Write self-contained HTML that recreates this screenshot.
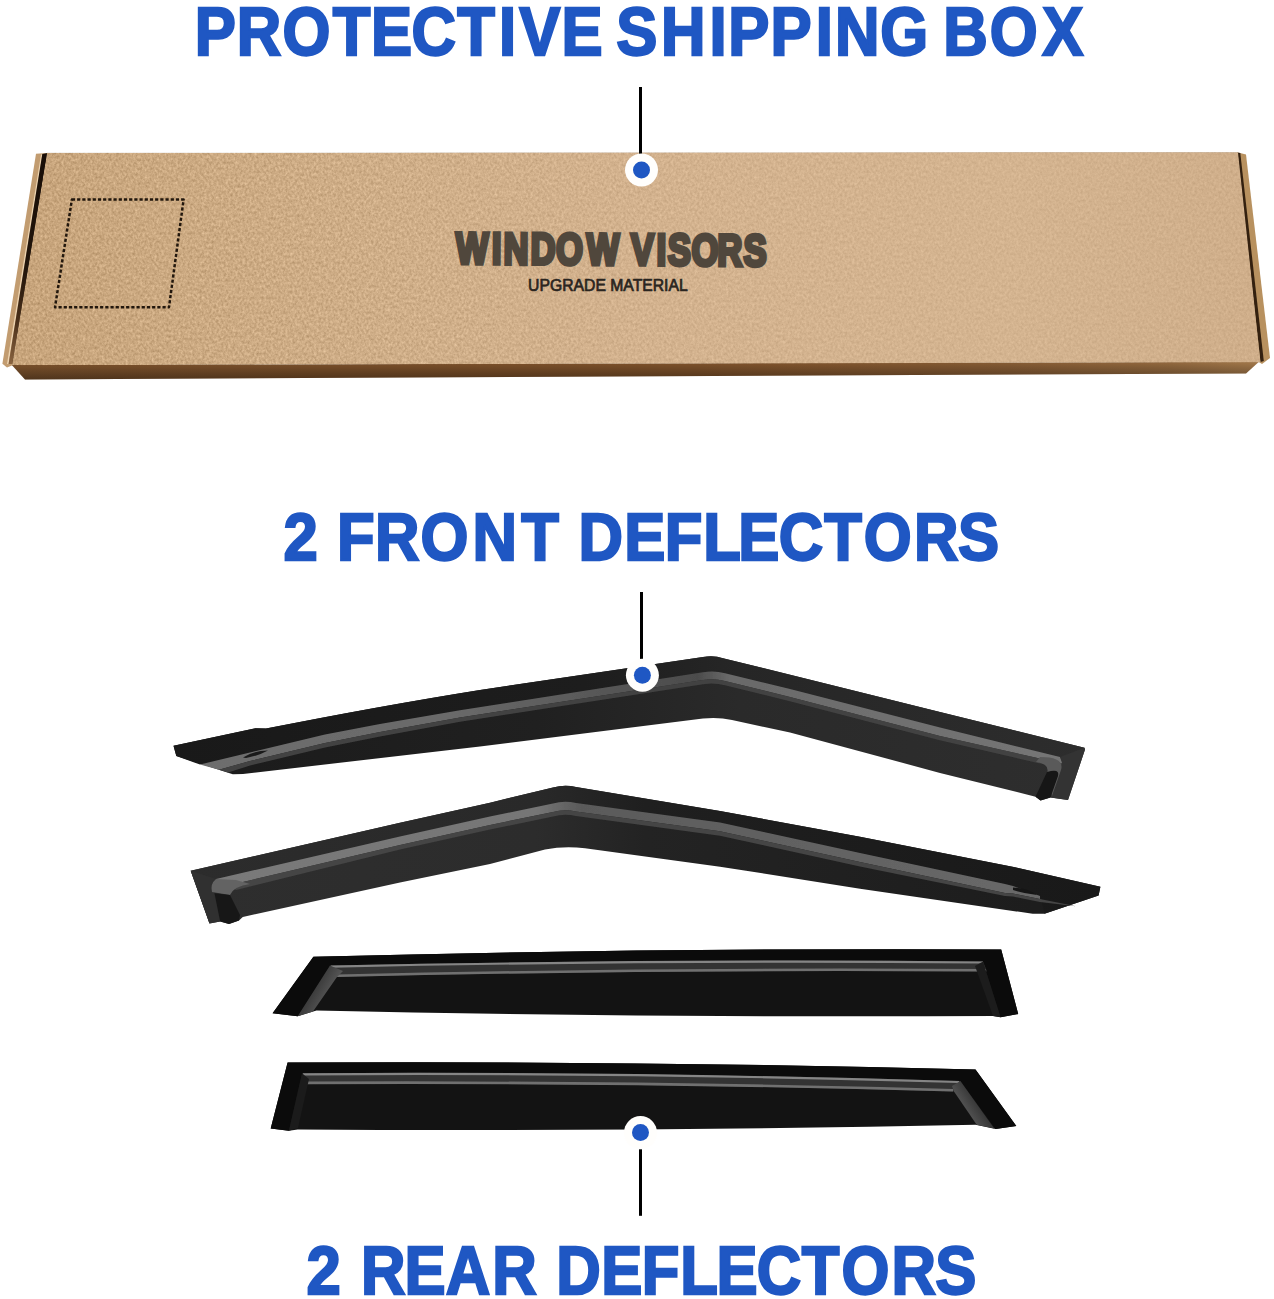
<!DOCTYPE html>
<html lang="en"><head><meta charset="utf-8"><title>Window Visors - Package Contents</title>
<style>html,body{margin:0;padding:0;background:#fff}svg{display:block}</style></head>
<body>
<svg width="1274" height="1299" viewBox="0 0 1274 1299">
<rect width="1274" height="1299" fill="#ffffff"/>
<defs>
<filter id="paper" x="0" y="0" width="100%" height="100%" color-interpolation-filters="sRGB">
  <feTurbulence type="fractalNoise" baseFrequency="0.42 0.34" numOctaves="3" seed="7" result="n"/>
  <feColorMatrix in="n" type="matrix" values="1 0 0 0 0  1 0 0 0 0  1 0 0 0 0  0 0 0 0 1" result="g"/>
  <feComposite in="SourceGraphic" in2="g" operator="arithmetic" k1="0" k2="1" k3="0.26" k4="-0.13" result="t"/>
  <feComposite in="t" in2="SourceGraphic" operator="in"/>
</filter>
<linearGradient id="topface" x1="0" y1="0" x2="1" y2="0">
  <stop offset="0" stop-color="#c7a47b"/>
  <stop offset="0.12" stop-color="#cba981"/>
  <stop offset="0.3" stop-color="#cfae88"/>
  <stop offset="0.5" stop-color="#d3b28e"/>
  <stop offset="0.8" stop-color="#d4b490"/>
  <stop offset="1" stop-color="#cfae8a"/>
</linearGradient>
<linearGradient id="topsmooth" x1="0" y1="0" x2="1" y2="0">
  <stop offset="0" stop-color="#c7a47b" stop-opacity="0"/>
  <stop offset="0.3" stop-color="#cfae88" stop-opacity="0.1"/>
  <stop offset="0.5" stop-color="#d3b28e" stop-opacity="0.35"/>
  <stop offset="0.8" stop-color="#d4b490" stop-opacity="0.55"/>
  <stop offset="1" stop-color="#cfae8a" stop-opacity="0.55"/>
</linearGradient>
<linearGradient id="front" x1="0" y1="0" x2="1" y2="0">
  <stop offset="0" stop-color="#80552e"/>
  <stop offset="0.25" stop-color="#7e522b"/>
  <stop offset="0.55" stop-color="#80532b"/>
  <stop offset="0.8" stop-color="#885d35"/>
  <stop offset="0.93" stop-color="#946a3f"/>
  <stop offset="1" stop-color="#a4794b"/>
</linearGradient>
<linearGradient id="crease" x1="0" y1="0" x2="0" y2="1">
  <stop offset="0" stop-color="#190e07"/><stop offset="0.55" stop-color="#22150b"/><stop offset="0.8" stop-color="#4a301a"/><stop offset="1" stop-color="#8a6440"/>
</linearGradient>
<linearGradient id="frontshade" x1="0" y1="0" x2="0" y2="1">
  <stop offset="0" stop-color="#000" stop-opacity="0"/>
  <stop offset="1" stop-color="#000" stop-opacity="0.38"/>
</linearGradient>
<linearGradient id="band1" x1="0" y1="0" x2="0" y2="1">
  <stop offset="0" stop-color="#6a6a6a"/>
  <stop offset="1" stop-color="#3c3c3c"/>
</linearGradient>
</defs>
<text transform="translate(0 54.90) scale(0.6164 0.6783)" x="315.8 383.9 458.4 539.7 601.8 667.5 741.9 809.5 842.5 911.1 951.1 999.6 1072.4 1151.1 1181.6 1250.2 1323.5 1354.7 1427.9 1467.9 1530.4 1605.8 1690.9" y="0" font-family="Liberation Sans, sans-serif" font-weight="bold" font-size="100" fill="#1f57c3" stroke="#1f57c3" stroke-width="2.2" stroke-linejoin="miter" stroke-miterlimit="3" vector-effect="non-scaling-stroke">PROTECTIVE SHIPPING BOX</text>
<text transform="translate(0 559.70) scale(0.6164 0.6754)" x="459.9 499.9 546.6 608.5 682.2 766.7 845.5 885.5 938.5 1012.8 1078.5 1141.1 1197.8 1263.5 1337.2 1401.3 1482.8 1554.0" y="0" font-family="Liberation Sans, sans-serif" font-weight="bold" font-size="100" fill="#1f57c3" stroke="#1f57c3" stroke-width="2.2" stroke-linejoin="miter" stroke-miterlimit="3" vector-effect="non-scaling-stroke">2 FRONT DEFLECTORS</text>
<text transform="translate(0 1294.00) scale(0.6164 0.6768)" x="497.4 537.4 585.8 656.4 723.0 798.6 838.6 902.5 975.6 1041.0 1103.8 1162.3 1227.7 1300.9 1365.0 1446.3 1517.3" y="0" font-family="Liberation Sans, sans-serif" font-weight="bold" font-size="100" fill="#1f57c3" stroke="#1f57c3" stroke-width="2.2" stroke-linejoin="miter" stroke-miterlimit="3" vector-effect="non-scaling-stroke">2 REAR DEFLECTORS</text>
<g id="box">
<polygon points="11.8,365 1259,361.8 1246,373.4 25,379.5" fill="url(#front)"/>
<polygon points="11.8,365 1259,361.8 1246,373.4 25,379.5" fill="url(#frontshade)"/>
<polygon points="36,153.8 47,153 12,365.5 7,367.5 2.4,363.8" fill="#c29c70"/>
<polygon points="41,154.5 42.5,154.3 8.5,364 7,364" fill="#ecd3b0"/>
<polygon points="42.3,154 47.5,153 13,364 8.6,364" fill="url(#crease)"/>
<polygon points="1238,152.6 1246,154.5 1270,358 1262,364 1259,362" fill="#b8915f"/>
<polygon points="1237,152.6 1240.3,153 1263.8,361 1260.5,362" fill="#33200f"/>
<polygon points="47,152.8 1238,152.2 1260.5,362.2 12,365.3" fill="url(#topface)" filter="url(#paper)"/>
<polygon points="47,152.8 1238,152.2 1260.5,362.2 12,365.3" fill="url(#topsmooth)"/>
<polygon points="71.9,199.6 183.6,199.6 169,307.2 55,307.2" fill="none" stroke="#22170d" stroke-width="2.5" stroke-dasharray="3.2 2" stroke-linejoin="round"/>
<g transform="rotate(0.42 610 249.4)">
<text transform="translate(0 264.70) scale(0.3450 0.4435)" x="1321.3 1426.0 1459.7 1538.0 1612.2 1700.4 1740.4 1828.4 1903.0 1935.8 2004.9 2079.0 2155.1" y="0" font-family="Liberation Sans, sans-serif" font-weight="bold" font-size="100" fill="#50473c" stroke="#50473c" stroke-width="3.6" stroke-linejoin="miter" stroke-miterlimit="3" vector-effect="non-scaling-stroke">WINDOW VISORS</text>
</g>
<text transform="translate(528.09 290.75) scale(0.1573 0.1739)" font-family="Liberation Sans, sans-serif" font-weight="normal" font-size="100" fill="#2a2520" stroke="#2a2520" stroke-width="0.7" stroke-linejoin="round" vector-effect="non-scaling-stroke">UPGRADE MATERIAL</text>
</g>
<defs>
<linearGradient id="d1body" gradientUnits="userSpaceOnUse" x1="174" y1="0" x2="1085" y2="0">
  <stop offset="0" stop-color="#1b1b1b"/><stop offset="0.4" stop-color="#202020"/><stop offset="0.62" stop-color="#2a2a2a"/><stop offset="1" stop-color="#2e2e2e"/>
</linearGradient>
<linearGradient id="d1fl" gradientUnits="userSpaceOnUse" x1="174" y1="0" x2="1085" y2="0">
  <stop offset="0" stop-color="#191919"/><stop offset="0.45" stop-color="#1d1d1d"/><stop offset="0.62" stop-color="#262626"/><stop offset="1" stop-color="#2d2d2d"/>
</linearGradient>
<linearGradient id="d1band" gradientUnits="userSpaceOnUse" x1="174" y1="0" x2="1085" y2="0">
  <stop offset="0" stop-color="#6e6e6e"/><stop offset="0.3" stop-color="#6a6a6a"/><stop offset="0.48" stop-color="#565656"/><stop offset="0.575" stop-color="#4c4c4c"/><stop offset="0.61" stop-color="#6a6a6a"/><stop offset="1" stop-color="#767676"/>
</linearGradient>
<linearGradient id="d2body" gradientUnits="userSpaceOnUse" x1="190" y1="0" x2="1100" y2="0">
  <stop offset="0" stop-color="#2e2e2e"/><stop offset="0.38" stop-color="#2c2c2c"/><stop offset="0.5" stop-color="#232323"/><stop offset="1" stop-color="#1c1c1c"/>
</linearGradient>
<linearGradient id="d2fl" gradientUnits="userSpaceOnUse" x1="190" y1="0" x2="1100" y2="0">
  <stop offset="0" stop-color="#2c2c2c"/><stop offset="0.38" stop-color="#292929"/><stop offset="0.5" stop-color="#1f1f1f"/><stop offset="1" stop-color="#191919"/>
</linearGradient>
<linearGradient id="d2band" gradientUnits="userSpaceOnUse" x1="190" y1="0" x2="1100" y2="0">
  <stop offset="0" stop-color="#7a7a7a"/><stop offset="0.38" stop-color="#767676"/><stop offset="0.43" stop-color="#5a5a5a"/><stop offset="0.6" stop-color="#606060"/><stop offset="1" stop-color="#6a6a6a"/>
</linearGradient>
<linearGradient id="rband" x1="0" y1="0" x2="0" y2="1">
  <stop offset="0" stop-color="#646464"/><stop offset="0.22" stop-color="#505050"/><stop offset="0.4" stop-color="#2e2e2e"/><stop offset="0.68" stop-color="#2a2a2a"/><stop offset="0.8" stop-color="#505050"/><stop offset="0.92" stop-color="#4a4a4a"/><stop offset="1" stop-color="#1c1c1c"/>
</linearGradient>
<linearGradient id="strip3" gradientUnits="userSpaceOnUse" x1="300" y1="985" x2="326" y2="1000">
  <stop offset="0" stop-color="#222"/><stop offset="1" stop-color="#565656"/>
</linearGradient>
<linearGradient id="strip4" gradientUnits="userSpaceOnUse" x1="962" y1="1110" x2="984" y2="1096">
  <stop offset="0" stop-color="#585858"/><stop offset="1" stop-color="#242424"/>
</linearGradient>
<filter id="soft" x="-2%" y="-10%" width="104%" height="120%"><feGaussianBlur stdDeviation="0.7"/></filter>
</defs>
<g id="deflector1">
<path d="M173.5,745.8 L255.5,728.2 L266.0,728.6 Q380.0,706.0 480.0,690.0 L703.0,656.9 Q714.0,655.0 723.0,658.2 L940.0,712.0 L1084.5,747.7 L1085.0,749.6 L1068.0,799.9 L1050.5,797.4 L1040.5,800.5 L1035.5,796.7 L940.0,772.9 L790.0,732.5 L732.0,720.0 Q718.0,717.0 703.0,718.6 L480.0,746.5 L243.0,774.0 L232.8,774.3 L176.3,756.0 Z" fill="url(#d1body)"/>
<path d="M173.5,745.8 L255.5,728.2 L266.0,728.6 Q380.0,706.0 480.0,690.0 L703.0,656.9 Q714.0,655.0 723.0,658.2 L940.0,712.0 L1084.5,747.7 L1060.0,757.0 L940.0,727.6 L790.0,689.0 L725.0,673.2 Q714.0,670.3 703.0,672.3 L460.0,710.2 L380.0,724.0 L325.0,734.5 L250.0,752.5 L200.0,764.6 L176.3,756.0 Z" fill="url(#d1fl)"/>
<g filter="url(#soft)">
<path d="M200.0,764.6 L250.0,752.5 L325.0,734.5 L380.0,724.0 L460.0,710.2 L703.0,672.3 Q714.0,670.3 725.0,673.2 L790.0,689.0 L940.0,727.6 L1060.0,757.0 L1064.0,764.0 L940.0,735.9 L790.0,696.9 L725.0,681.0 Q714.0,678.0 703.0,680.0 L460.0,717.4 L380.0,732.1 L325.0,743.1 L250.0,761.1 L219.0,769.7 Z" fill="url(#d1band)"/>
<path d="M219.0,769.7 L250.0,761.1 L325.0,743.1 L380.0,732.1 L460.0,717.4 L703.0,680.0 Q714.0,678.0 725.0,681.0 L790.0,696.9 L940.0,735.9 L1064.0,764.0 L1062.0,768.5 L940.0,740.2 L790.0,701.2 L725.0,685.3 Q714.0,682.3 703.0,684.3 L460.0,721.7 L380.0,736.4 L325.0,747.4 L250.0,765.4 L228.0,772.6 Z" fill="#434343"/>
</g>
<path d="M243,757.5 Q252,751 268,750.5 Q258,756 246,758 Z" fill="#1a1a1a"/>
<path d="M1060,757 L1084.5,747.7 L1085,749.6 L1068,799.9 L1050.5,797.4 L1062,763 Z" fill="#333"/>
<path d="M1040,757 Q1065,757 1061,770 L1052,796 L1046,776 Q1052,764 1036,762 Z" fill="#5a5a5a" filter="url(#soft)"/>
<path d="M1047,772 Q1060,768 1058,776 L1050.5,797.4 L1040.5,800.5 L1035.5,796.7 Z" fill="#161616"/>
</g>
<g id="deflector2">
<path d="M190.7,870.7 L400.0,822.8 L490.0,802.7 L553.0,787.5 Q564.6,784.3 576.0,787.0 L720.0,811.0 L860.0,836.7 L1015.0,867.2 L1100.4,886.7 L1098.6,895.5 L1044.5,913.8 L1032.7,913.8 L860.0,888.7 L720.0,866.7 L585.0,848.3 Q565.0,845.5 545.0,849.5 L490.0,864.0 L400.0,882.5 L242.8,917.0 L239.0,920.4 L229.0,924.1 L220.2,921.6 L209.5,923.5 Z" fill="url(#d2body)"/>
<path d="M190.7,870.7 L400.0,822.8 L490.0,802.7 L553.0,787.5 Q564.6,784.3 576.0,787.0 L720.0,811.0 L860.0,836.7 L1015.0,867.2 L1100.4,886.7 L1098.6,895.5 L1044.5,913.8 L1040.0,896.0 L1013.0,886.0 L1005.0,884.0 L860.0,853.0 L720.0,822.5 L576.0,803.0 Q564.0,800.5 553.0,803.5 L490.0,816.5 L400.0,836.6 L216.0,879.0 L209.5,923.5 Z" fill="url(#d2fl)"/>
<g filter="url(#soft)">
<path d="M216.0,879.0 L400.0,836.6 L490.0,816.5 L553.0,803.5 Q564.0,800.5 576.0,803.0 L720.0,822.5 L860.0,853.0 L1005.0,884.0 L1013.0,886.0 L1040.0,896.0 L1040.0,899.0 L1013.0,893.6 L1005.0,893.0 L860.0,861.9 L720.0,831.2 L576.0,811.4 Q564.0,808.9 553.0,811.9 L490.0,824.9 L400.0,845.0 L230.0,885.0 Z" fill="url(#d2band)"/>
<path d="M230.0,885.0 L400.0,845.0 L490.0,824.9 L553.0,811.9 Q564.0,808.9 576.0,811.4 L720.0,831.2 L860.0,861.9 L1005.0,893.0 L1013.0,893.6 L1040.0,899.0 L1076.0,906.3 L1040.0,902.0 L1013.0,896.6 L1005.0,896.0 L860.0,866.5 L720.0,835.8 L576.0,816.0 Q564.0,813.5 553.0,816.5 L490.0,829.5 L400.0,849.6 L236.0,890.0 Z" fill="#454545"/>
</g>
<path d="M1013,887.5 Q1028,888 1037,895 Q1024,893.5 1013,890 Z" fill="#151515"/>
<path d="M190.7,870.7 L216,879 L214,893 L220.2,921.6 L209.5,923.5 Z" fill="#303030"/>
<path d="M216,879 Q210,884 212,892 L230,895 Q234,886 250,884 L236,880 Z" fill="#646464" filter="url(#soft)"/>
<path d="M214.5,893.3 L230,895 L240,915 L239,920.4 L229,924.1 L220.2,921.6 Z" fill="#171717"/>
</g>
<g id="deflector3">
  <path d="M313.4,956.7 Q657,947.8 1001.2,949.4 L1018.2,1014 L1000.6,1017.3 L993,1016 Q655,1017.8 316.5,1010.5 L297.7,1016.3 L272.6,1013.2 Z" fill="#131313"/>
  <path d="M313.4,956.7 Q657,947.8 1001.2,949.4 L1018.2,1014 L1000.6,1017.3 L983,961.4 Q657,958.6 330,965.5 L297.7,1016.3 L272.6,1013.2 Z" fill="#0b0b0b"/>
  <path d="M330,965.5 Q657,958.6 983,961.4 L987,971.5 Q657,969.3 336,977 Z" fill="#333"/>
  <g filter="url(#soft)" fill="none"><path d="M331,966.6 Q657,959.7 983,962.5" stroke="#858585" stroke-width="2.2"/><path d="M337,975.8 Q657,968.1 986,970.3" stroke="#707070" stroke-width="2.6"/></g>
  <path d="M330,965.5 L343,971 L336.6,977.5 L313,1011.6 L297.7,1016.3 Z" fill="url(#strip3)"/>
  <path d="M983,961.4 L975,966 L993,1016 L1000.6,1017.3 Z" fill="#1c1c1c"/>
</g>
<g id="deflector4">
  <path d="M287.6,1062.6 Q632,1060.6 975.5,1069.5 L1016.3,1126 L995.6,1129.1 L975.5,1124.7 Q640,1131.6 297.7,1129.4 L288.9,1130.8 L270.7,1128.5 Z" fill="#131313"/>
  <path d="M287.6,1062.6 Q632,1060.6 975.5,1069.5 L1016.3,1126 L995.6,1129.1 L960.4,1081 Q640,1071.2 302,1073.2 L288.9,1130.8 L270.7,1128.5 Z" fill="#0b0b0b"/>
  <path d="M302,1073.2 Q640,1071.2 960.4,1081 L954,1091.5 Q640,1082.4 306,1084 Z" fill="#333"/>
  <g filter="url(#soft)" fill="none"><path d="M303,1074.3 Q640,1072.3 959,1082" stroke="#858585" stroke-width="2.2"/><path d="M307,1082.9 Q640,1081.3 953,1090.3" stroke="#707070" stroke-width="2.6"/></g>
  <path d="M302,1073.2 L309,1079 L298,1128 L288.9,1130.8 Z" fill="#1b1b1b"/>
  <path d="M960.4,1081 L994.3,1128.6 L976.7,1124.7 L954,1091.5 L952,1086 Z" fill="url(#strip4)"/>
</g>
<rect x="639" y="87" width="3" height="68" fill="#000"/><circle cx="641.5" cy="170" r="16.5" fill="#fffefc"/><circle cx="641.5" cy="170" r="8.5" fill="#1f57c3"/>
<rect x="640" y="592" width="3" height="68" fill="#000"/><circle cx="642.4" cy="675.2" r="16.5" fill="#fffefc"/><circle cx="642.4" cy="675.2" r="8.5" fill="#1f57c3"/>
<rect x="639" y="1149.3" width="3" height="66.5" fill="#000"/><circle cx="640.5" cy="1132.6" r="16.5" fill="#fffefc"/><circle cx="640.5" cy="1132.6" r="8.5" fill="#1f57c3"/>
</svg>
</body></html>
